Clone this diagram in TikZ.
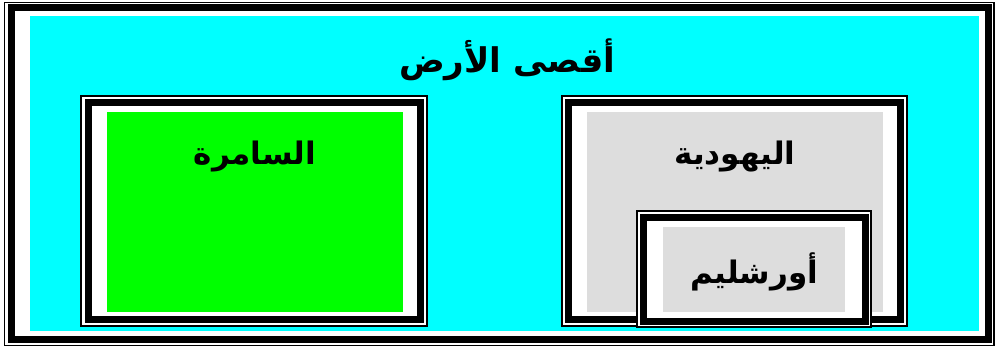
\documentclass[tikz,border=0pt]{standalone}
\usepackage{fontspec}
\newfontfamily\arabicfont[Script=Arabic]{DejaVu Sans}
\TeXXeTstate=1
\definecolor{earthend}{HTML}{00FFFF}
\definecolor{samaria}{HTML}{00FF00}
\definecolor{judea}{HTML}{DDDDDD}

\begin{document}
\begin{tikzpicture}[x=1pt,y=-1pt,
		thinframe/.style={draw=black,fill=white,line width=1.3pt},
		thickframe/.style={draw=black,line width=7pt},
		place/.style={font=\arabicfont\bfseries\fontsize{31}{34}\selectfont,inner sep=0pt}]
		\useasboundingbox (0,0) rectangle (996,349);
		\fill[white] (0,0) rectangle (996,349);

		% page frame
		\draw[line width=1.3pt] (4.5,2.5) rectangle (994,345.5);
		\draw[thickframe] (11.5,7.5) rectangle (988.5,339);
		\fill[earthend] (30,16) rectangle (979,331);
		\node[place,font=\arabicfont\bfseries\fontsize{34}{38}\selectfont] (ends) at (507,60) {\beginR أقصى الأرض\endR};

		% samaria
		\filldraw[thinframe] (81,96) rectangle (427,326);
		\draw[thickframe] (88.5,102.5) rectangle (420.5,319.5);
		\fill[samaria] (107,112) rectangle (403,312);
		\node[place] (samarianame) at (255,157) {\beginR السامرة\endR};

		% judea
		\filldraw[thinframe] (562,96) rectangle (907,326);
		\draw[thickframe] (568.5,102.5) rectangle (900.5,319.5);
		\fill[judea] (587,112) rectangle (883,312);
		\node[place] (judeaname) at (735,157) {\beginR اليهودية\endR};

		% jerusalem
		\filldraw[thinframe] (637,211) rectangle (871,327);
		\draw[thickframe] (643.5,217) rectangle (865.5,321);
		\fill[judea] (663,227) rectangle (845,312);
		\node[place] (jerusalemname) at (754,272) {\beginR أورشليم\endR};
\end{tikzpicture}
\end{document}
